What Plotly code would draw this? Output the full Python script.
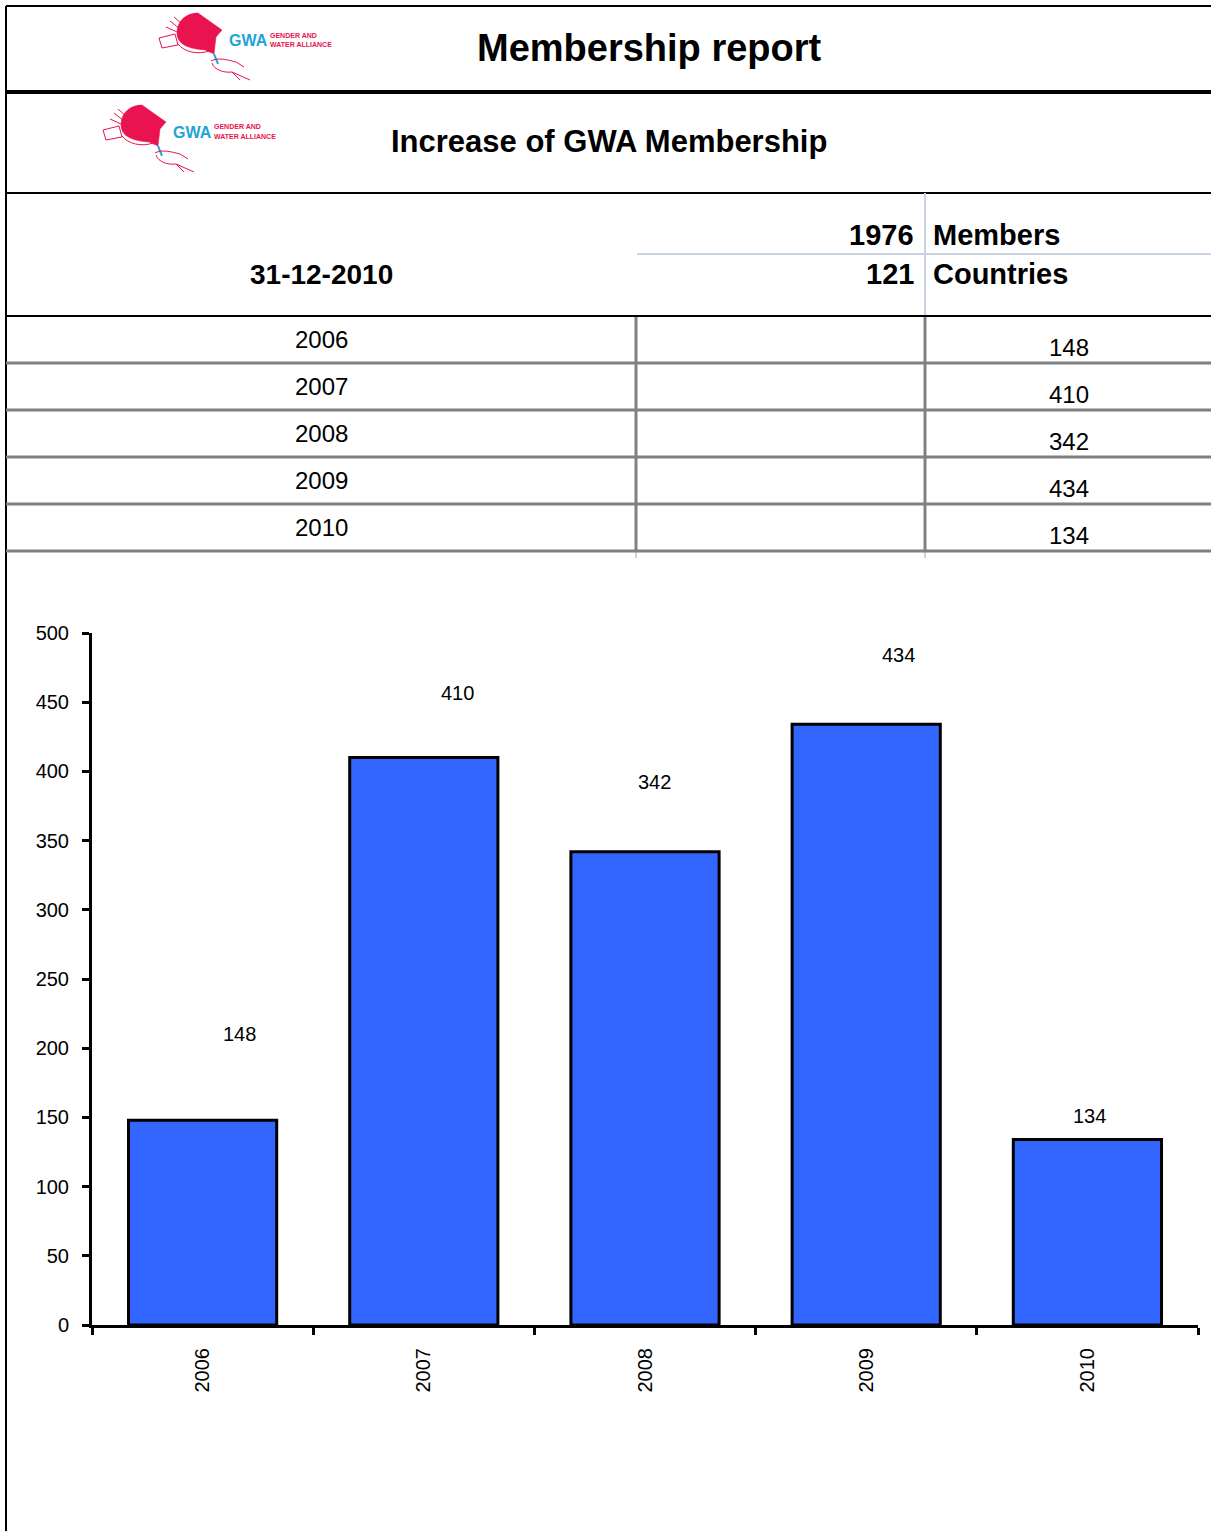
import plotly.graph_objects as go

# ---------------- data ----------------
years = ["2006", "2007", "2008", "2009", "2010"]
new_members = [148, 410, 342, 434, 134]
total_members = 1976
total_countries = 121
report_date = "31-12-2010"
title_main = "Membership report"
title_sub = "Increase of GWA Membership"
y_ticks = [0, 50, 100, 150, 200, 250, 300, 350, 400, 450, 500]
# manual label offsets (pixels) as in the original spreadsheet chart
label_dx = [37, 34, 9, 32, 2]
label_dy = [86, 65, 70, 69, 24]

W, H = 1211, 1531
FONT = "Liberation Sans, Arial, sans-serif"
PINK = "#e8134f"
CYAN = "#1ea5d6"


def X(x):
    return x / W


def Y(y):
    return 1 - y / H


fig = go.Figure()

fig.add_trace(go.Bar(
    x=years, y=new_members,
    marker=dict(color="#3366ff", line=dict(color="black", width=3)),
    hoverinfo="skip", showlegend=False,
))

shapes = []
ann = []


def line(x0, y0, x1, y1, color="black", width=2):
    shapes.append(dict(type="line", xref="paper", yref="paper",
                       x0=X(x0), y0=Y(y0), x1=X(x1), y1=Y(y1),
                       line=dict(color=color, width=width)))


def text(x, y, s, size, bold=False, xanchor="center", color="black"):
    ann.append(dict(xref="paper", yref="paper", x=X(x), y=Y(y), text=s, showarrow=False,
                    xanchor=xanchor, yanchor="middle",
                    font=dict(family=FONT, size=size, color=color,
                              weight="bold" if bold else "normal")))


def path(pts, ox, oy, fill=None, color=PINK, width=1):
    out = []
    for tok in pts:
        if isinstance(tok, str):
            out.append(tok)
        else:
            out.append(f"{X(tok[0] + ox):.5f},{Y(tok[1] + oy):.5f}")
    shapes.append(dict(type="path", xref="paper", yref="paper", path=" ".join(out),
                       fillcolor=fill if fill else "rgba(0,0,0,0)",
                       line=dict(color=color, width=width if not fill else 0.5)))


def logo(ox, oy):
    path(["M", (177, 33), "C", (177, 20), (187, 13), (198, 13), (207, 13), (212, 20), (214, 27),
          "L", (222, 30), "L", (216, 37), "L", (214, 54), "L", (205, 50),
          "C", (190, 49), (177, 45), (177, 33), "Z"], ox, oy, fill=PINK, color=PINK)
    path(["M", (214, 54), "L", (218, 64)], ox, oy, color=CYAN, width=2)
    path(["M", (159, 38), "L", (175, 34), "L", (178, 45), "L", (162, 48), "Z"], ox, oy)
    path(["M", (178, 44), "C", (184, 52), (198, 55), (209, 51)], ox, oy)
    path(["M", (170, 21), "L", (180, 29), "M", (174, 17), "L", (183, 25), "M", (166, 27), "L", (177, 32)], ox, oy)
    path(["M", (211, 61), "C", (218, 57), (228, 60), (236, 62), "L", (244, 67)], ox, oy)
    path(["M", (212, 63), "C", (214, 70), (224, 73), (232, 72), "L", (250, 80)], ox, oy)
    path(["M", (232, 72), "L", (240, 80)], ox, oy)
    text(227 + ox, 40 + oy, "GWA", 16, bold=True, xanchor="left", color=CYAN)
    text(268 + ox, 35 + oy, "GENDER AND", 7, bold=True, xanchor="left", color=PINK)
    text(268 + ox, 45 + oy, "WATER ALLIANCE", 7, bold=True, xanchor="left", color=PINK)


# frame and table rules
line(6, 6, W, 6, width=2)
line(6, 6, 6, H, width=2)
line(6, 92, W, 92, width=4)
line(6, 193, W, 193, width=2)
line(925, 193, 925, 316, color="#c9d3e3", width=2)
line(637, 254, W, 254, color="#c9d3e3", width=2)
line(636, 551, 636, 558, color="#c9d3e3", width=2)
line(925, 551, 925, 558, color="#c9d3e3", width=2)
row_lines = [363, 410, 457, 504, 551]
line(636, 316, 636, 551, color="#808080", width=3)
line(925, 316, 925, 551, color="#808080", width=3)
for yl in row_lines:
    line(6, yl, W, yl, color="#808080", width=3)
line(6, 316, W, 316, width=2)

logo(0, 0)
logo(-56, 92)

text(649, 48, title_main, 38, bold=True)
text(609, 142, title_sub, 31, bold=True)
text(321, 274, report_date, 28, bold=True)
text(916, 235, str(total_members), 29, bold=True, xanchor="right")
text(931, 235, "Members", 29, bold=True, xanchor="left")
text(916, 274, str(total_countries), 29, bold=True, xanchor="right")
text(931, 274, "Countries", 29, bold=True, xanchor="left")

for i, (yr, v) in enumerate(zip(years, new_members)):
    yb = row_lines[i]
    text(321, yb - 24, yr, 24)
    text(1069, yb - 16, str(v), 24)

# bar data labels (category axis: position by category serial number)
for i, v in enumerate(new_members):
    ann.append(dict(xref="x", yref="y", x=i, y=v, text=str(v), showarrow=False,
                    xshift=label_dx[i], yshift=label_dy[i], yanchor="middle",
                    font=dict(family=FONT, size=20, color="black")))

fig.update_layout(
    width=W, height=H,
    margin=dict(l=0, r=0, t=0, b=0, pad=0, autoexpand=False),
    paper_bgcolor="white", plot_bgcolor="rgba(0,0,0,0)",
    bargap=0.33,
    shapes=shapes, annotations=ann,
    xaxis=dict(domain=[92 / W, 1198 / W], type="category", tickson="boundaries",
               range=[-0.5, len(years) - 0.5],
               ticks="outside", ticklen=7, tickwidth=3, tickcolor="black",
               showline=True, linewidth=3, linecolor="black", showgrid=False,
               tickangle=-90, ticklabelstandoff=12, automargin=False,
               tickfont=dict(family=FONT, size=20, color="black")),
    yaxis=dict(domain=[1 - 1325 / H, 1 - 633 / H], range=[0, 500], tickvals=y_ticks,
               ticks="outside", ticklen=7, tickwidth=3, tickcolor="black",
               showline=True, linewidth=3, linecolor="black", showgrid=False,
               zeroline=False, ticklabelstandoff=9, automargin=False,
               tickfont=dict(family=FONT, size=20, color="black")),
)

fig.write_html("out.html", config={"displayModeBar": False},
               post_script="document.body.style.margin='0px';")
